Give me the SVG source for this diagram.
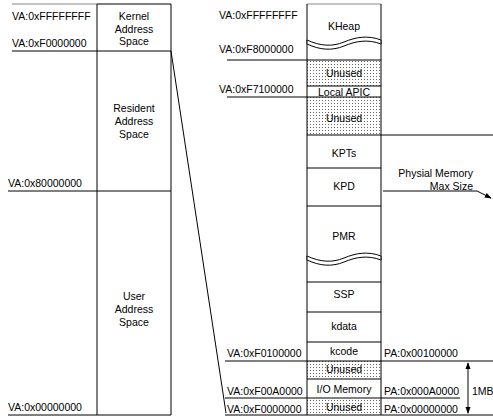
<svg xmlns="http://www.w3.org/2000/svg" width="493" height="419" viewBox="0 0 493 419">
<style>
text{font-family:"Liberation Sans",Arial,sans-serif;font-size:10.5px;fill:#000;dominant-baseline:central}
.c{text-anchor:middle}
.e{text-anchor:end}
.ln{stroke:#000;stroke-width:1;fill:none}
.lt{stroke:#888;stroke-width:1;fill:none}
.dot{fill:url(#dots)}
.wv{stroke:#000;stroke-width:1;fill:#fff}
</style>
<defs>
<pattern id="dots" width="3" height="3" patternUnits="userSpaceOnUse">
<rect width="3" height="3" fill="#fff"/>
<rect x="1" y="1" width="1" height="1" fill="#666"/>
</pattern>
<marker id="ah" viewBox="0 0 8 8" refX="7" refY="4" markerWidth="7" markerHeight="7" orient="auto-start-reverse">
<path d="M0,1 L8,4 L0,7 z" fill="#000"/>
</marker>
</defs>
<rect width="493" height="419" fill="#fff"/>

<!-- Virtual address space (left) -->
<g id="virtual-space">
<line class="lt" x1="12" y1="4" x2="97" y2="4"/>
<line class="ln" x1="97" y1="4" x2="171" y2="4"/>
<line class="ln" x1="97" y1="4" x2="97" y2="415"/>
<line class="ln" x1="171" y1="4" x2="171" y2="415"/>
<line class="ln" x1="12" y1="51" x2="171" y2="51"/>
<line class="ln" x1="8" y1="191" x2="171" y2="191"/>
<line class="ln" x1="8" y1="415" x2="171" y2="415"/>
</g>
<g id="kernel-space">
<text class="c" x="134" y="16">Kernel</text>
<text class="c" x="134" y="28.5">Address</text>
<text class="c" x="134" y="41">Space</text>
</g>
<g id="resident-space">
<text class="c" x="134" y="108">Resident</text>
<text class="c" x="134" y="121">Address</text>
<text class="c" x="134" y="134">Space</text>
</g>
<g id="user-space">
<text class="c" x="134" y="296">User</text>
<text class="c" x="134" y="309">Address</text>
<text class="c" x="134" y="322">Space</text>
</g>
<g id="va-labels-left">
<text x="12" y="16">VA:0xFFFFFFFF</text>
<text x="12" y="43">VA:0xF0000000</text>
<text x="8" y="183">VA:0x80000000</text>
<text x="8" y="407">VA:0x00000000</text>
</g>

<!-- Kernel detail (right) -->
<g id="kernel-detail">
<rect class="dot" x="307" y="60" width="74" height="26"/>
<rect class="dot" x="307" y="97" width="74" height="38"/>
<rect class="dot" x="307" y="361" width="74" height="18"/>
<rect class="dot" x="307" y="398" width="74" height="17"/>
<line class="lt" x1="307" y1="4" x2="381" y2="4"/>
<line class="ln" x1="307" y1="4" x2="307" y2="415"/>
<line class="ln" x1="381" y1="4" x2="381" y2="415"/>
<line class="ln" x1="227" y1="60" x2="381" y2="60"/>
<line class="ln" x1="307" y1="86" x2="381" y2="86"/>
<line class="ln" x1="227" y1="97" x2="381" y2="97"/>
<line class="ln" x1="307" y1="135" x2="493" y2="135"/>
<line class="ln" x1="307" y1="168" x2="381" y2="168"/>
<line class="ln" x1="307" y1="206" x2="381" y2="206"/>
<line class="ln" x1="307" y1="282" x2="381" y2="282"/>
<line class="ln" x1="307" y1="312" x2="381" y2="312"/>
<line class="ln" x1="307" y1="342" x2="381" y2="342"/>
<line class="ln" x1="225" y1="361" x2="493" y2="361"/>
<line class="ln" x1="307" y1="379" x2="381" y2="379"/>
<line class="ln" x1="225" y1="398" x2="460" y2="398"/>
<line class="ln" x1="225" y1="415" x2="493" y2="415"/>
<path class="wv" d="M307,40 C320,46 332,47 344,42 C356,37 368,35 381,40 L381,44 C368,39 356,41 344,46 C332,51 320,50 307,44 Z"/>
<path class="wv" d="M307,256 C320,262 332,263 344,258 C356,253 368,251 381,256 L381,260 C368,255 356,257 344,262 C332,267 320,266 307,260 Z"/>
</g>
<g id="kheap"><text class="c" x="344" y="26">KHeap</text></g>
<g id="unused-1"><text class="c" x="344" y="73">Unused</text></g>
<g id="local-apic"><text class="c" x="344" y="91.5">Local APIC</text></g>
<g id="unused-2"><text class="c" x="344" y="118">Unused</text></g>
<g id="kpts"><text class="c" x="344" y="153">KPTs</text></g>
<g id="kpd"><text class="c" x="344" y="186">KPD</text></g>
<g id="pmr"><text class="c" x="344" y="236">PMR</text></g>
<g id="ssp"><text class="c" x="344" y="294">SSP</text></g>
<g id="kdata"><text class="c" x="344" y="326">kdata</text></g>
<g id="kcode"><text class="c" x="344" y="351">kcode</text></g>
<g id="unused-3"><text class="c" x="344" y="369">Unused</text></g>
<g id="io-memory"><text class="c" x="344" y="389">I/O Memory</text></g>
<g id="unused-4"><text class="c" x="344" y="407">Unused</text></g>

<g id="va-labels-right">
<text x="219" y="15">VA:0xFFFFFFFF</text>
<text x="219" y="49">VA:0xF8000000</text>
<text x="219" y="89">VA:0xF7100000</text>
<text x="227" y="353">VA:0xF0100000</text>
<text x="227" y="391">VA:0xF00A0000</text>
<text x="227" y="409">VA:0xF0000000</text>
</g>
<g id="pa-labels">
<text x="384" y="353">PA:0x00100000</text>
<text x="384" y="391">PA:0x000A0000</text>
<text x="384" y="409">PA:0x00000000</text>
</g>
<g id="phys-max-label">
<text class="e" x="473" y="173">Physial Memory</text>
<text class="e" x="473" y="186">Max Size</text>
</g>
<g id="mb-label"><text x="472" y="391">1MB</text></g>

<g id="connectors">
<line class="ln" x1="171" y1="51" x2="226" y2="413"/>
<path class="ln" d="M383,191 L477,191 L491,198" marker-end="url(#ah)"/>
<line class="ln" x1="468" y1="363" x2="468" y2="413" marker-start="url(#ah)" marker-end="url(#ah)"/>
</g>
</svg>
